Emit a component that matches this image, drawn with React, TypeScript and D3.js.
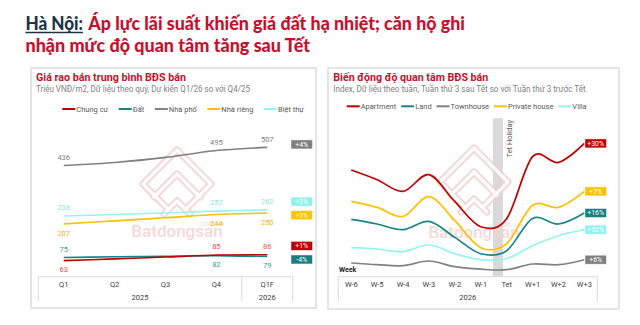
import React from "react";
import * as d3 from "d3";

// ---------- Data ----------
const quarters = ["Q1", "Q2", "Q3", "Q4", "Q1F"];
const yearGroups = [
  { year: "2025", first: "Q1", last: "Q4" },
  { year: "2026", first: "Q1F", last: "Q1F" },
];
const seriesVN = ["Chung cư", "Đất", "Nhà phố", "Nhà riêng", "Biệt thự"];
const priceChungCu = [63, 70, 77, 85, 86];
const priceDat = [75, 78, 80, 82, 79];
const priceNhaPho = [436, 448, 468, 495, 507];
const priceNhaRieng = [207, 219, 231, 244, 250];
const priceBietThu = [238, 244, 250, 257, 262];
const priceBadges = ["+1%", "-4%", "+4%", "+2%", "+2%"];
const labeledQuarters = ["Q1", "Q4", "Q1F"];

const weeks = ["W-6", "W-5", "W-4", "W-3", "W-2", "W-1", "Tet", "W+1", "W+2", "W+3"];
const seriesEN = ["Apartment", "Land", "Townhouse", "Private house", "Villa"];
const idxApartment = [106.7, 97, 85.3, 102, 75, 50, 58, 120, 114.3, 133.3];
const idxLand = [57.3, 52.7, 47, 55.3, 39.3, 23, 26, 58.3, 52.7, 63.7];
const idxTownhouse = [13.7, 12, 11, 15.7, 10, 7.5, 7, 12.7, 12, 17];
const idxPrivate = [75.3, 69.3, 60.3, 80, 56, 29, 33, 71.5, 69.3, 85.3];
const idxVilla = [29, 27.7, 25, 31.7, 23, 17, 18, 31, 41, 47];
const interestBadges = ["+30%", "+16%", "+6%", "+7%", "+50%"];
const holidayWeek = "Tet";

// ---------- Styles ----------
const FONT = "Roboto, 'Noto Sans', sans-serif";
const RED_T = "#c8102e";
const COLORS = ["#c00000", "#178585", "#808080", "#ffc000", "#96f2f2"];
const BADGE = ["#c00000", "#178080", "#7f7f7f", "#ffc000", "#8ff0f0"];
const LABEL_COL = ["#e05252", "#3c9c9c", "#808080", "#f0b400", "#86e6e6"];

let _ctx: CanvasRenderingContext2D | null = null;
function textW(s: string, font: string) {
  if (!_ctx) {
    const c = document.createElement("canvas");
    _ctx = c.getContext("2d");
  }
  if (!_ctx) return s.length * 4;
  _ctx.font = font;
  return _ctx.measureText(s).width;
}

function Legend({ names, colors, x0, x1, y }: any) {
  const fs = 7.5;
  const font = `${fs}px Roboto`;
  const lineLen = 13;
  const widths = names.map((n: string) => lineLen + 1 + textW(n, font));
  const gap = (x1 - x0 - d3.sum(widths)) / (names.length - 1);
  let x = x0;
  return (
    <g>
      {names.map((n: string, i: number) => {
        const gx = x;
        x += widths[i] + gap;
        return (
          <g key={n}>
            <line x1={gx} x2={gx + lineLen} y1={y} y2={y} stroke={colors[i]} strokeWidth={2} />
            <text x={gx + lineLen + 1} y={y} dominantBaseline="central" fontSize={fs} fill="#595959" fontFamily={FONT}>
              {n}
            </text>
          </g>
        );
      })}
    </g>
  );
}

function Watermark({ cx, top, textY }: any) {
  const paths = [
    "M-9,56 L-34,31 L0,-3 L34,31 L9,56",
    "M-23,44 L0,21 L23,44",
    "M-13,61 L0,48 L13,61",
  ];
  return (
    <g opacity={0.85}>
      <g transform={`translate(${cx},${top + 3})`} fill="none" strokeLinejoin="round" strokeLinecap="round">
        {paths.map((p, i) => (
          <path key={"a" + i} d={p} stroke="#f1cfcf" strokeWidth={7} />
        ))}
        {paths.map((p, i) => (
          <path key={"b" + i} d={p} stroke="#ffffff" strokeWidth={3.2} />
        ))}
      </g>
      <text x={cx} y={textY} textAnchor="middle" fontSize={17} fontWeight={500} fill="#f3d3d3" fontFamily={FONT}>
        Batdongsan
      </text>
      <text x={cx + 47} y={textY - 11} textAnchor="end" fontSize={7} fill="#f3d3d3" fontFamily={FONT}>
        .com.vn
      </text>
    </g>
  );
}

function Badge({ x, y, text, fill }: any) {
  const w = 21.5;
  const h = 9;
  return (
    <g>
      <rect x={x} y={y - h / 2} width={w} height={h} fill={fill} stroke="#ffffff" strokeOpacity={0.6} strokeWidth={0.8} />
      <text x={x + w / 2} y={y + 0.3} textAnchor="middle" dominantBaseline="central" fontSize={7} fill="#ffffff" fontFamily={FONT}>
        {text}
      </text>
    </g>
  );
}

function spread(targets: number[], gap: number) {
  const ys = targets.slice();
  const order = d3.range(ys.length).sort((a, b) => ys[a] - ys[b]);
  for (let it = 0; it < 40; it++) {
    for (let k = 0; k < order.length - 1; k++) {
      const a = order[k];
      const b = order[k + 1];
      const d = ys[b] - ys[a];
      if (d < gap) {
        const m = (ys[a] + ys[b]) / 2;
        ys[a] = m - gap / 2;
        ys[b] = m + gap / 2;
      }
    }
  }
  return ys;
}

function LeftChart() {
  const x = d3.scaleBand().domain(quarters).range([38.3, 292.7]);
  const bw = x.bandwidth();
  const cxq = (q: string) => (x(q) as number) + bw / 2;
  const y = d3.scaleLinear().domain([0, 600]).range([276.7, 276.7 - 600 * 0.255]);
  const series = [
    { values: priceChungCu, sides: [1, -1, -1] },
    { values: priceDat, sides: [-1, 1, 1] },
    { values: priceNhaPho, sides: [-1, -1, -1] },
    { values: priceNhaRieng, sides: [1, 1, 1] },
    { values: priceBietThu, sides: [-1, -1, -1] },
  ];
  const line = d3
    .line<number>()
    .x((_, i) => cxq(quarters[i]))
    .y((v) => y(v))
    .curve(d3.curveCardinal.tension(0.3));
  const badgeY = spread(
    series.map((s) => y(s.values[s.values.length - 1]) - 3),
    13.6
  );
  const drawOrder = [2, 4, 3, 1, 0];
  return (
    <g>
      <rect x={31} y={68} width={285} height={240} fill="#fff" stroke="#dcdcdc" strokeWidth={1.5} />
      <text x={36} y={81} fontSize={11} fontWeight={700} fill={RED_T} fontFamily={FONT} textLength={150} lengthAdjust="spacingAndGlyphs">
        Giá rao bán trung bình BĐS bán
      </text>
      <text x={36} y={92} fontSize={8.4} fill="#808080" fontFamily={FONT} textLength={214} lengthAdjust="spacingAndGlyphs">
        Triệu VNĐ/m2, Dữ liệu theo quý, Dự kiến Q1/26 so với Q4/25
      </text>
      <Legend names={seriesVN} colors={COLORS} x0={62.3} x1={304} y={109} />
      <Watermark cx={177} top={150} textY={236.5} />
      {drawOrder.map((i) => (
        <path key={i} d={line(series[i].values) || ""} fill="none" stroke={COLORS[i]} strokeWidth={1.6} />
      ))}
      {series.map((s, i) =>
        labeledQuarters.map((q, k) => {
          const qi = quarters.indexOf(q);
          const ly = y(s.values[qi]) + (s.sides[k] < 0 ? -8.3 : 9.2);
          return (
            <text key={i + q} x={cxq(q)} y={ly} textAnchor="middle" dominantBaseline="central" fontSize={7.5} fill={LABEL_COL[i]} fontFamily={FONT}>
              {s.values[qi]}
            </text>
          );
        })
      )}
      {series.map((s, i) => (
        <Badge key={"b" + i} x={291} y={badgeY[i]} text={priceBadges[i]} fill={BADGE[i]} />
      ))}
      {/* axis table */}
      <g stroke="#d9d9d9" strokeWidth={1}>
        <line x1={38.3} x2={292.7} y1={276.7} y2={276.7} />
        <line x1={38.3} x2={38.3} y1={276.7} y2={301} />
        <line x1={292.7} x2={292.7} y1={276.7} y2={301} />
        <line x1={x("Q1F") as number} x2={x("Q1F") as number} y1={276.7} y2={301} />
      </g>
      {quarters.map((q) => (
        <text key={q} x={cxq(q)} y={284.5} textAnchor="middle" dominantBaseline="central" fontSize={7.5} fill="#404040" fontFamily={FONT}>
          {q}
        </text>
      ))}
      {yearGroups.map((g) => (
        <text
          key={g.year}
          x={((x(g.first) as number) + (x(g.last) as number) + bw) / 2}
          y={297}
          textAnchor="middle"
          dominantBaseline="central"
          fontSize={7.5}
          fill="#404040"
          fontFamily={FONT}
        >
          {g.year}
        </text>
      ))}
    </g>
  );
}

function RightChart() {
  const x = d3.scaleBand().domain(weeks).range([338.3, 597.3]);
  const bw = x.bandwidth();
  const cxw = (w: string) => (x(w) as number) + bw / 2;
  const y = d3.scaleLinear().domain([0, 160]).range([276.7, 116.7]);
  const series = [idxApartment, idxLand, idxTownhouse, idxPrivate, idxVilla];
  const line = d3
    .line<number>()
    .x((_, i) => cxw(weeks[i]))
    .y((v) => y(v))
    .curve(d3.curveCardinal.tension(0));
  const hx = (x(holidayWeek) as number) - 0.8;
  return (
    <g>
      <rect x={328} y={68} width={291} height={241} fill="#fff" stroke="#dcdcdc" strokeWidth={1.5} />
      <text x={333.3} y={80.5} fontSize={11} fontWeight={700} fill={RED_T} fontFamily={FONT} textLength={155} lengthAdjust="spacingAndGlyphs">
        Biến động độ quan tâm BĐS bán
      </text>
      <text x={333.3} y={92} fontSize={8.4} fill="#808080" fontFamily={FONT} textLength={252.4} lengthAdjust="spacingAndGlyphs">
        Index, Dữ liệu theo tuần, Tuần thứ 3 sau Tết so với Tuần thứ 3 trước Tết
      </text>
      <Legend names={seriesEN} colors={COLORS} x0={346.7} x1={586.7} y={106.3} />
      <rect x={hx} y={118.3} width={10} height={276.7 - 118.3} fill="#d9d9d9" />
      <text
        transform={`translate(${hx + 16.3},120) rotate(-90)`}
        textAnchor="end"
        dominantBaseline="central"
        fontSize={7.5}
        fill="#595959"
        fontFamily={FONT}
      >
        Tet Holiday
      </text>
      <Watermark cx={474} top={148} textY={237.5} />
      {series.map((s, i) => (
        <path key={i} d={line(s) || ""} fill="none" stroke={COLORS[i]} strokeWidth={1.7} />
      ))}
      {series.map((s, i) => (
        <Badge key={"b" + i} x={cxw(weeks[weeks.length - 1]) + 0.6} y={y(s[s.length - 1])} text={interestBadges[i]} fill={BADGE[i]} />
      ))}
      <text x={339} y={270} dominantBaseline="central" fontSize={7} fontWeight={700} fill="#262626" fontFamily={FONT}>
        Week
      </text>
      <g stroke="#d9d9d9" strokeWidth={1}>
        <line x1={338.3} x2={597.3} y1={276.7} y2={276.7} />
        <line x1={338.3} x2={338.3} y1={276.7} y2={301} />
        <line x1={597.3} x2={597.3} y1={276.7} y2={301} />
      </g>
      {weeks.map((w) => (
        <text key={w} x={cxw(w)} y={284.5} textAnchor="middle" dominantBaseline="central" fontSize={7.5} fill="#404040" fontFamily={FONT}>
          {w}
        </text>
      ))}
      <text x={(338.3 + 597.3) / 2} y={297} textAnchor="middle" dominantBaseline="central" fontSize={7.5} fill="#404040" fontFamily={FONT}>
        2026
      </text>
    </g>
  );
}

export default function App() {
  return (
    <svg width={640} height={325} style={{ position: "absolute", left: 0, top: 0, background: "#fff" }}>
      <rect width={640} height={325} fill="#fff" />
      <text x={25.5} y={30} fontSize={19} fontWeight={900} fill="#1d3447" fontFamily="Lato, Roboto, sans-serif" textLength={57.5} lengthAdjust="spacingAndGlyphs">
        Hà Nội:
      </text>
      <line x1={25.5} x2={83} y1={32.6} y2={32.6} stroke="#1d3447" strokeWidth={1.5} />
      <text x={88.3} y={30} fontSize={19} fontWeight={900} fill={RED_T} fontFamily="Lato, Roboto, sans-serif" textLength={376.7} lengthAdjust="spacingAndGlyphs">
        Áp lực lãi suất khiến giá đất hạ nhiệt; căn hộ ghi
      </text>
      <text x={25.5} y={51.8} fontSize={19} fontWeight={900} fill={RED_T} fontFamily="Lato, Roboto, sans-serif" textLength={284.5} lengthAdjust="spacingAndGlyphs">
        nhận mức độ quan tâm tăng sau Tết
      </text>
      <LeftChart />
      <RightChart />
    </svg>
  );
}
